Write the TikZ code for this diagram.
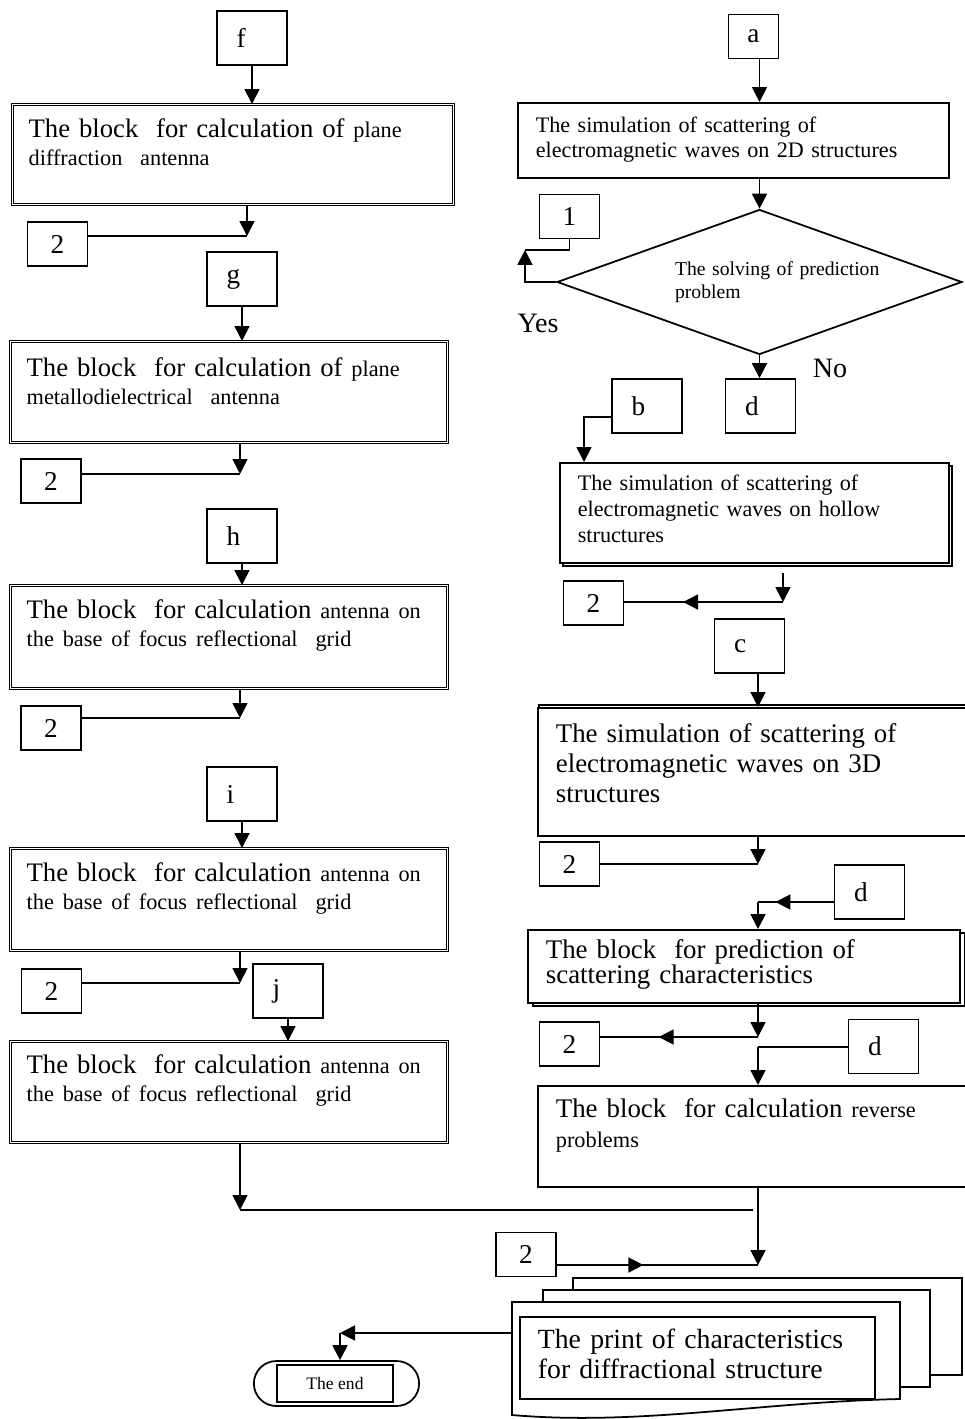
\documentclass[tikz,border=0pt]{standalone}
\usepackage{fontspec}
\setmainfont{Liberation Serif}
\usepackage{tikz}
\usetikzlibrary{positioning, arrows.meta, shapes.geometric, shapes.misc, shadows, decorations.markings}

\newcommand{\smallpart}{\fontsize{12.7}{16}\selectfont}

\begin{document}
\begin{tikzpicture}[
    x=0.02cm, y=-0.02cm,
    line width=1pt,
    tag/.style={
        rectangle,
        draw,
        fill=white,
        minimum width=1.4cm,
        minimum height=1.08cm,
        text width=0.62cm,
        inner xsep=0.39cm,
        align=left,
        font=\fontsize{15.5}{18}\selectfont
    },
    num/.style={
        rectangle,
        draw,
        minimum width=1.2cm,
        minimum height=0.88cm,
        inner sep=0pt,
        font=\fontsize{15.5}{18}\selectfont
    },
    lblock/.style={
        rectangle,
        draw,
        double,
        double distance=0.4pt,
        line width=0.75pt,
        anchor=north west,
        text width=8.1cm,
        inner xsep=0.32cm,
        inner ysep=0pt,
        text height=0.66cm,
        align=left,
        font=\fontsize{15.2}{16}\selectfont
    },
    rblock/.style={
        rectangle,
        draw,
        fill=white,
        anchor=north west,
        inner xsep=0.36cm,
        inner ysep=0pt,
        align=left
    },
    arr/.style={
        -{Triangle[length=0.3cm,width=0.3cm]}
    },
    midarr/.style={
        postaction={decorate},
        decoration={markings,
            mark=at position #1 with {\arrow{Triangle[length=0.3cm,width=0.3cm]}}}
    }
]
\useasboundingbox (0,0) rectangle (964,1419);

% left column
\node[tag] (f) at (252,38) {f};
\node[lblock, text width=8.18cm, text depth=1.34cm] (b1) at (12,104) {The block\ \ for calculation of \smallpart plane\\ diffraction\ \ antenna};
\node[num] (n1) at (57.5,244) {2};
\node[tag] (g) at (242,279) {g};
\node[lblock, text height=0.70cm, text depth=1.32cm] (b2) at (10,341) {The block\ \ for calculation of \smallpart plane\\ metallodielectrical\ \ antenna};
\node[num] (n2) at (51,481) {2};
\node[tag] (h) at (242,536) {h};
\node[lblock, text depth=1.40cm] (b3) at (10,585) {The block\ \ for calculation \smallpart antenna on\\ the base of focus reflectional\ \ grid};
\node[num] (n3) at (51,728) {2};
\node[tag] (i) at (242,794) {i};
\node[lblock, text depth=1.38cm] (b4) at (10,848) {The block\ \ for calculation \smallpart antenna on\\ the base of focus reflectional\ \ grid};
\node[num] (n4) at (51.5,991) {2};
\node[tag] (j) at (288,991) {j};
\node[lblock, text height=0.64cm, text depth=1.38cm] (b5) at (10,1041) {The block\ \ for calculation \smallpart antenna on\\ the base of focus reflectional\ \ grid};

\coordinate (j1) at (247,236);
\coordinate (j2) at (240,474);
\coordinate (j3) at (240,718);
\coordinate (j4) at (240,983);
\coordinate (j5) at (240,1210);
\coordinate (j6) at (753,1210);

% right column
\node[num, minimum width=1.0cm] (a) at (753.5,36.5) {a};
\node[rblock, text width=7.90cm, text height=0.6cm, text depth=0.9cm, font=\fontsize{12.6}{14.2}\selectfont] (r1) at (517,102) {The simulation of scattering of\\ electromagnetic waves on 2D structures};
\node[diamond, draw, aspect=2.8, minimum width=8.1cm, minimum height=2.9cm, inner sep=0pt, text width=3.38cm, align=left, font=\fontsize{11.2}{13}\selectfont] (dia) at (759.5,282) {\mbox{The solving of prediction}\\ problem};
\node[num] (one) at (569.5,216.5) {1};
\node[font=\fontsize{16}{18}\selectfont] (yes) at (538,323) {Yes};
\node[font=\fontsize{16}{18}\selectfont] (no) at (830,368) {No};
\node[tag] (d1) at (760.5,406) {d};
\node[tag] (b) at (647,406) {b};
\node[rblock, copy shadow={shadow xshift=1.7pt, shadow yshift=-1.7pt}, text width=7.06cm, text height=0.56cm, text depth=1.44cm, font=\fontsize{12.6}{14.7}\selectfont] (r2) at (559,462) {The simulation of scattering of\\ electromagnetic waves on hollow\\ structures};
\node[num] (n5) at (593.5,603) {2};
\node[tag] (c) at (749.5,646) {c};
\node[rblock, copy shadow={shadow xshift=0.8pt, shadow yshift=1.7pt}, text width=7.88cm, text height=0.7cm, text depth=1.86cm, font=\fontsize{15.3}{17}\selectfont] (r3) at (537,707) {The simulation of scattering of\\ electromagnetic waves on 3D\\ structures};
\node[num] (n6) at (569.5,864) {2};
\node[tag] (d2) at (869.5,892) {d};
\node[rblock, copy shadow={shadow xshift=3pt, shadow yshift=-1.7pt}, text width=7.92cm, text height=0.58cm, text depth=0.88cm, font={\fontsize{15.3}{14.2}\selectfont\lineskiplimit=-20pt}] (r4) at (527,929) {The block\ \ for prediction of\\ scattering characteristics};
\node[num] (n7) at (569.5,1044) {2};
\node[tag] (d3) at (883.5,1046.5) {d};
\node[rblock, text width=7.88cm, text height=0.64cm, text depth=1.38cm, font=\fontsize{15.3}{17}\selectfont] (r5) at (537,1085) {The block\ \ for calculation \smallpart reverse\\ problems};
\node[num] (n8) at (526,1254.5) {2};

\coordinate (yes1) at (525,250);
\coordinate (jb) at (584,417);
\coordinate (j7a) at (783,573);
\coordinate (j7) at (783,602);
\coordinate (j8) at (758,864);
\coordinate (j9) at (758,902);
\coordinate (j10) at (758,1037);
\coordinate (j11) at (758,1047);
\coordinate (j12) at (758,1265);

% printed documents
\draw[fill=white] (573,1278) rectangle (962,1375);
\draw[fill=white] (543,1290) rectangle (930,1387);
\draw[fill=white] (512,1302) -- (900,1302) -- (900,1399)
    .. controls (760,1402) and (640,1426) .. (512,1415) -- cycle;
\node[rblock, text width=6.38cm, text height=0.64cm, text depth=1.0cm, font=\fontsize{15.8}{17}\selectfont] (print) at (519,1316) {\mbox{The print of characteristics}\\ \mbox{for diffractional structure}};
\coordinate (docw) at (512,1333);
\coordinate (turn) at (340,1333);

\node[draw, rounded rectangle, minimum width=3.54cm, minimum height=0.9cm] (stop) at (336.5,1383.5) {};
\node[draw, minimum width=2.32cm, minimum height=0.74cm, inner sep=0pt, font=\fontsize{10}{12}\selectfont] (endtxt) at (335,1383.5) {The end};

% connectors, left
\draw[arr] (f) -- (f |- b1.north);
\draw[arr] (j1 |- b1.south) -- (j1);
\draw (n1.east |- j1) -- (j1);
\draw[arr] (g) -- (g |- b2.north);
\draw[arr] (j2 |- b2.south) -- (j2);
\draw (n2.east |- j2) -- (j2);
\draw[arr] (h) -- (h |- b3.north);
\draw[arr] (j3 |- b3.south) -- (j3);
\draw (n3.east |- j3) -- (j3);
\draw[arr] (i) -- (i |- b4.north);
\draw[arr] (j4 |- b4.south) -- (j4);
\draw (n4.east |- j4) -- (j4);
\draw[arr] (j) -- (j |- b5.north);
\draw[arr] (j5 |- b5.south) -- (j5);
\draw (j5) -- (j6);

% connectors, right
\draw[arr] (a.south -| dia.north) -- (dia.north |- r1.north);
\draw[arr] (dia.north |- r1.south) -- (dia.north);
\draw[arr] (dia.west) -| (yes1);
\draw (yes1) -| (one.south);
\draw[arr] (dia.south) -- (dia.south |- d1.north);
\draw[arr] (b.west |- jb) -| (jb |- r2.north);
\draw[arr] (j7a) -- (j7);
\draw[midarr=0.63] (j7) -- (n5.east |- j7);
\draw[arr] (c.south -| j8) -- (j8 |- r3.north);
\draw[arr] (j8 |- r3.south) -- (j8);
\draw (n6.east |- j8) -- (j8);
\draw[midarr=0.77] (d2.west |- j9) -- (j9);
\draw[arr] (j9) -- (j9 |- r4.north);
\draw[arr] (j10 |- r4.south) -- (j10);
\draw[midarr=0.63] (j10) -- (n7.east |- j10);
\draw (d3.west |- j11) -- (j11);
\draw[arr] (j11) -- (j11 |- r5.north);
\draw[arr] (j12 |- r5.south) -- (j12);
\draw[midarr=0.43] (n8.east |- j12) -- (j12);

% to the end
\draw[arr] (docw) -- (turn);
\draw[arr] (turn) -- (turn |- stop.north);

\end{tikzpicture}
\end{document}
